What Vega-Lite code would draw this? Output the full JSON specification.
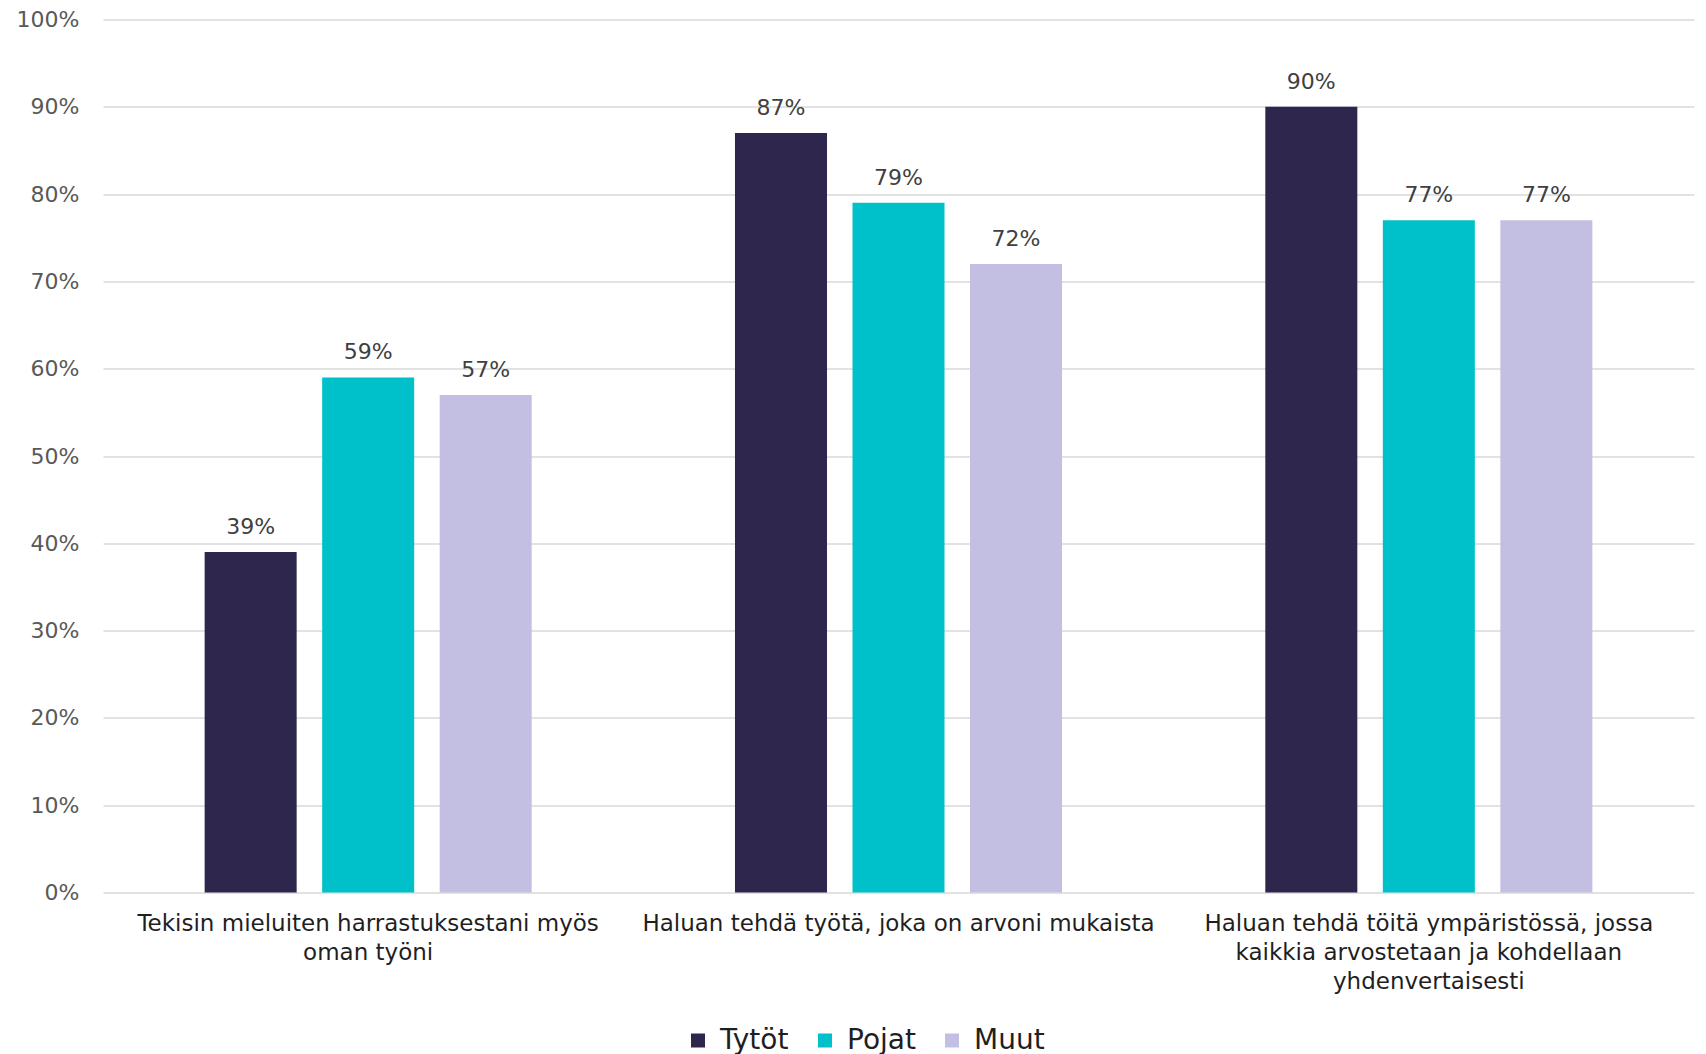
{
  "$schema": "https://vega.github.io/schema/vega-lite/v6.json",
  "width": 1591,
  "height": 873,
  "autosize": {"type": "none"},
  "padding": {"left": 103, "top": 19.5, "right": 12, "bottom": 162},
  "background": "white",
  "config": {
    "font": "DejaVu Sans",
    "view": {"stroke": null}
  },
  "data": {
    "values": [
      {"kysymys": "Tekisin mieluiten harrastuksestani myös oman työni", "ryhma": "Tytöt", "arvo": 0.39},
      {"kysymys": "Tekisin mieluiten harrastuksestani myös oman työni", "ryhma": "Pojat", "arvo": 0.59},
      {"kysymys": "Tekisin mieluiten harrastuksestani myös oman työni", "ryhma": "Muut", "arvo": 0.57},
      {"kysymys": "Haluan tehdä työtä, joka on arvoni mukaista", "ryhma": "Tytöt", "arvo": 0.87},
      {"kysymys": "Haluan tehdä työtä, joka on arvoni mukaista", "ryhma": "Pojat", "arvo": 0.79},
      {"kysymys": "Haluan tehdä työtä, joka on arvoni mukaista", "ryhma": "Muut", "arvo": 0.72},
      {"kysymys": "Haluan tehdä töitä ympäristössä, jossa kaikkia arvostetaan ja kohdellaan yhdenvertaisesti", "ryhma": "Tytöt", "arvo": 0.90},
      {"kysymys": "Haluan tehdä töitä ympäristössä, jossa kaikkia arvostetaan ja kohdellaan yhdenvertaisesti", "ryhma": "Pojat", "arvo": 0.77},
      {"kysymys": "Haluan tehdä töitä ympäristössä, jossa kaikkia arvostetaan ja kohdellaan yhdenvertaisesti", "ryhma": "Muut", "arvo": 0.77}
    ]
  },
  "encoding": {
    "x": {
      "field": "kysymys",
      "type": "nominal",
      "sort": null,
      "scale": {"paddingInner": 0, "paddingOuter": 0},
      "axis": {
        "title": null,
        "labelAngle": 0,
        "domain": false,
        "ticks": false,
        "labelFontSize": 23,
        "labelColor": "#1f1f1f",
        "labelPadding": 20,
        "labelLineHeight": 29,
        "labelLimit": 600,
        "labelExpr": "datum.label == 'Tekisin mieluiten harrastuksestani myös oman työni' ? ['Tekisin mieluiten harrastuksestani myös', 'oman työni'] : datum.label == 'Haluan tehdä töitä ympäristössä, jossa kaikkia arvostetaan ja kohdellaan yhdenvertaisesti' ? ['Haluan tehdä töitä ympäristössä, jossa', 'kaikkia arvostetaan ja kohdellaan', 'yhdenvertaisesti'] : datum.label"
      }
    },
    "xOffset": {
      "field": "ryhma",
      "type": "nominal",
      "sort": ["Tytöt", "Pojat", "Muut"],
      "scale": {"paddingInner": 0.217, "paddingOuter": 0.865}
    },
    "y": {
      "field": "arvo",
      "type": "quantitative",
      "scale": {"domain": [0, 1], "nice": false},
      "axis": {
        "title": null,
        "format": ".0%",
        "values": [0, 0.1, 0.2, 0.3, 0.4, 0.5, 0.6, 0.7, 0.8, 0.9, 1],
        "domain": false,
        "ticks": false,
        "labelFontSize": 22,
        "labelColor": "#595959",
        "labelPadding": 24,
        "gridColor": "#D9D9D9",
        "gridWidth": 1.5
      }
    },
    "color": {
      "field": "ryhma",
      "type": "nominal",
      "sort": ["Tytöt", "Pojat", "Muut"],
      "scale": {"domain": ["Tytöt", "Pojat", "Muut"], "range": ["#2E264D", "#00C1C9", "#C3BFE3"]},
      "legend": {
        "title": null,
        "orient": "none",
        "direction": "horizontal",
        "legendX": 581,
        "legendY": 1007,
        "symbolType": "square",
        "symbolSize": 196,
        "symbolStrokeWidth": 0,
        "labelFontSize": 28,
        "labelColor": "#1f1f1f",
        "labelOffset": 8,
        "columnPadding": 22
      }
    }
  },
  "layer": [
    {"mark": {"type": "bar"}},
    {
      "mark": {"type": "text", "baseline": "alphabetic", "dy": -18, "fontSize": 22},
      "encoding": {
        "text": {"field": "arvo", "format": ".0%"},
        "color": {"value": "#404040"}
      }
    }
  ]
}
